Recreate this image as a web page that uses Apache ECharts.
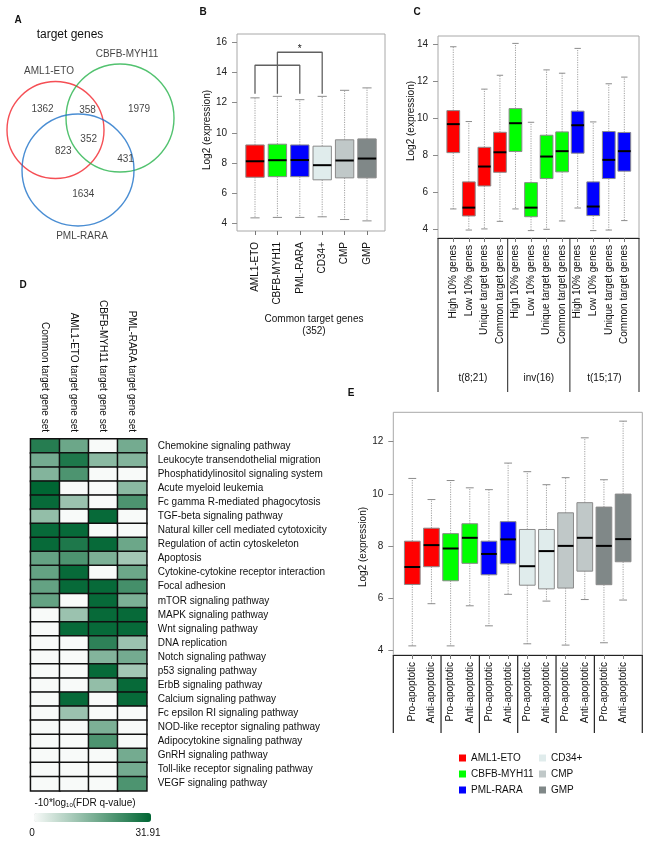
<!DOCTYPE html>
<html><head><meta charset="utf-8">
<script src="https://cdn.jsdelivr.net/npm/echarts@6/dist/echarts.min.js"></script>
<style>html,body{margin:0;padding:0;background:#fff}#c{width:650px;height:847px}</style>
</head><body><div id="c"></div>
<script>
const FONT = '"Liberation Sans", Arial, Helvetica, sans-serif';

// ---------- Panel A : Venn ----------
const vennSetNames = ['AML1-ETO', 'CBFB-MYH11', 'PML-RARA'];
const vennRegionCounts = [1362, 358, 1979, 823, 352, 431, 1634];
// layout (panel A pixel units)
const vennCircleLayout = [[55.5, 130, 48.5], [120, 118, 54], [78, 170, 56]];
const vennCountLayout = [[42.5, 109], [87.5, 110], [139, 109], [63.3, 151], [88.7, 139], [125.5, 159], [83.3, 194]];
const vennNameLayout = [[49, 71.3], [127, 54.7], [82, 236.7]];
const vennColors = ['#f2232b', '#27b34b', '#1c70c8'];

// ---------- Panel B ----------
const bCategories = ['AML1-ETO', 'CBFB-MYH11', 'PML-RARA', 'CD34+', 'CMP', 'GMP'];
const bLow    = [4.37, 4.40, 4.40, 4.44, 4.26, 4.17];
const bQ1     = [7.06, 7.10, 7.10, 6.89, 7.02, 7.02];
const bMedian = [8.12, 8.19, 8.20, 7.86, 8.17, 8.30];
const bQ3     = [9.20, 9.25, 9.20, 9.12, 9.54, 9.60];
const bHigh   = [12.32, 12.42, 12.20, 12.42, 12.82, 12.98];
const bYTicks = [4, 6, 8, 10, 12, 14, 16];
const bBracketBase = 12.6, bBracket1 = 14.48, bBracket2 = 15.34;

// ---------- Panel C ----------
const cCategories = ['High 10% genes', 'Low 10% genes', 'Unique target genes', 'Common target genes',
                     'High 10% genes', 'Low 10% genes', 'Unique target genes', 'Common target genes',
                     'High 10% genes', 'Low 10% genes', 'Unique target genes', 'Common target genes'];
const cGroups = ['t(8;21)', 'inv(16)', 't(15;17)'];
const cLow    = [5.10, 3.96, 4.02, 4.43, 5.10, 3.93, 4.00, 4.45, 5.15, 3.93, 3.96, 4.47];
const cQ1     = [8.14, 4.72, 6.34, 7.08, 8.20, 4.68, 6.74, 7.10, 8.11, 4.74, 6.74, 7.14];
const cMedian = [9.68, 5.17, 7.39, 8.16, 9.73, 5.17, 7.93, 8.22, 9.62, 5.23, 7.75, 8.22];
const cQ3     = [10.41, 6.56, 8.43, 9.24, 10.52, 6.52, 9.08, 9.26, 10.38, 6.56, 9.28, 9.23];
const cHigh   = [13.86, 9.82, 11.57, 12.32, 14.04, 9.78, 12.61, 12.43, 13.77, 9.80, 11.86, 12.22];
const cYTicks = [4, 6, 8, 10, 12, 14];

// ---------- Panel D : heatmap ----------
const heatColumns = ['Common target gene set', 'AML1-ETO target gene set', 'CBFB-MYH11 target gene set', 'PML-RARA target gene set'];
const heatRows = ['Chemokine signaling pathway', 'Leukocyte transendothelial migration', 'Phosphatidylinositol signaling system',
  'Acute myeloid leukemia', 'Fc gamma R-mediated phagocytosis', 'TGF-beta signaling pathway',
  'Natural killer cell mediated cytotoxicity', 'Regulation of actin cytoskeleton', 'Apoptosis',
  'Cytokine-cytokine receptor interaction', 'Focal adhesion', 'mTOR signaling pathway', 'MAPK signaling pathway',
  'Wnt signaling pathway', 'DNA replication', 'Notch signaling pathway', 'p53 signaling pathway',
  'ErbB signaling pathway', 'Calcium signaling pathway', 'Fc epsilon RI signaling pathway',
  'NOD-like receptor signaling pathway', 'Adipocytokine signaling pathway', 'GnRH signaling pathway',
  'Toll-like receptor signaling pathway', 'VEGF signaling pathway'];
const heatCommon = [27, 17, 15, 31.91, 31, 13, 31, 31, 19, 19, 19, 19, 0, 0, 0, 0, 0, 0, 0, 0, 0, 0, 0, 0, 0];
const heatAML    = [18, 28, 22, 0, 12, 0, 31, 28, 22, 31, 31, 0, 12, 31, 0, 0, 0, 0, 31, 12, 0, 0, 0, 0, 0];
const heatCBFB   = [0, 14, 0, 0, 0, 31, 0, 31, 16, 0, 31, 31, 31, 31, 26, 15, 31, 13, 0, 0, 16, 22, 0, 0, 0];
const heatPML    = [17, 15, 0, 14, 22, 0, 0, 18, 11, 18, 23, 16, 31, 31, 12, 17, 11, 31, 31, 0, 0, 0, 17, 17, 22];
const heatMax = 31.91;

// ---------- Panel E ----------
const eCategories = ['Pro-apoptotic', 'Anti-apoptotic', 'Pro-apoptotic', 'Anti-apoptotic', 'Pro-apoptotic', 'Anti-apoptotic',
                     'Pro-apoptotic', 'Anti-apoptotic', 'Pro-apoptotic', 'Anti-apoptotic', 'Pro-apoptotic', 'Anti-apoptotic'];
const eGroups = ['AML1-ETO', 'CBFB-MYH11', 'PML-RARA', 'CD34+', 'CMP', 'GMP'];
const eLow    = [4.16, 5.78, 4.16, 5.70, 4.93, 6.14, 4.24, 5.88, 4.19, 5.94, 4.28, 5.92];
const eQ1     = [6.52, 7.20, 6.66, 7.33, 6.89, 7.31, 6.49, 6.35, 6.38, 7.03, 6.51, 7.39];
const eMedian = [7.19, 8.03, 7.90, 8.31, 7.69, 8.25, 7.22, 7.80, 8.00, 8.31, 8.00, 8.26];
const eQ3     = [8.18, 8.68, 8.47, 8.85, 8.18, 8.93, 8.63, 8.63, 9.27, 9.66, 9.49, 9.99];
const eHigh   = [10.59, 9.78, 10.51, 10.23, 10.16, 11.18, 10.85, 10.35, 10.62, 12.15, 10.54, 12.79];
const eYTicks = [4, 6, 8, 10, 12];

// ---------- styles ----------
const groupColors = {'AML1-ETO': '#ff0000', 'CBFB-MYH11': '#00ff00', 'PML-RARA': '#0000ff',
                     'CD34+': '#e0ecec', 'CMP': '#c0c8c8', 'GMP': '#808888'};

function boxSeries(name, xi, yi, idxs, low, q1, med, q3, high, color) {
  return {
    type: 'custom', name, xAxisIndex: xi, yAxisIndex: yi,
    itemStyle: {color},
    encode: {x: 0, y: [1, 2, 3, 4, 5]},
    data: idxs.map(i => [i, low[i], q1[i], med[i], q3[i], high[i]]),
    renderItem(params, api) {
      const i = api.value(0);
      const pL = api.coord([i, api.value(1)]);
      const p1 = api.coord([i, api.value(2)]);
      const pM = api.coord([i, api.value(3)]);
      const p3 = api.coord([i, api.value(4)]);
      const pH = api.coord([i, api.value(5)]);
      const band = api.size([1, 0])[0];
      const hw = band * 0.41, cw = hw * 0.5, x = pM[0];
      const wh = {stroke: '#a0a0a0', lineWidth: 1, lineDash: [1.2, 1.2]};
      const cap = {stroke: '#8c8c8c', lineWidth: 1};
      return {type: 'group', children: [
        {type: 'line', shape: {x1: x, y1: p3[1], x2: x, y2: pH[1]}, style: wh},
        {type: 'line', shape: {x1: x, y1: p1[1], x2: x, y2: pL[1]}, style: wh},
        {type: 'line', shape: {x1: x - cw, y1: pH[1], x2: x + cw, y2: pH[1]}, style: cap},
        {type: 'line', shape: {x1: x - cw, y1: pL[1], x2: x + cw, y2: pL[1]}, style: cap},
        {type: 'rect', shape: {x: x - hw, y: p3[1], width: 2 * hw, height: p1[1] - p3[1]},
         style: {fill: color, stroke: '#8a8a8a', lineWidth: 1}},
        {type: 'line', shape: {x1: x - hw, y1: pM[1], x2: x + hw, y2: pM[1]}, style: {stroke: '#000', lineWidth: 2}}
      ]};
    }
  };
}

function frameX(gi, line) {
  return {gridIndex: gi, type: 'value', min: 0, max: 1, show: true,
    axisLine: {show: line, onZero: false, lineStyle: {color: '#222', width: 1}},
    axisTick: {show: false}, axisLabel: {show: false}, splitLine: {show: false}};
}
function frameY(gi, min, max, ticks) {
  return {gridIndex: gi, type: 'value', min, max,
    axisLine: {show: false}, splitLine: {show: false},
    axisTick: {show: true, inside: false, length: 5, lineStyle: {color: '#8a8a8a'}, customValues: ticks},
    axisLabel: {show: true, customValues: ticks, fontSize: 10, color: '#222', fontFamily: FONT, margin: 10}};
}
function dataX(gi, cats, margin) {
  return {gridIndex: gi, type: 'category', data: cats,
    axisLine: {show: false}, splitLine: {show: false},
    axisTick: {show: true, alignWithLabel: true, length: 4, lineStyle: {color: '#777'}},
    axisLabel: {rotate: 90, interval: 0, margin, fontSize: 10, color: '#111', fontFamily: FONT}};
}
function dataY(gi, min, max) {
  return {gridIndex: gi, type: 'value', min, max, show: false};
}

const bMin = 3.5, bMax = 16.55, cMin = 3.53, cMax = 14.44, eMin = 3.81, eMax = 13.13;
const frameStyle = {show: true, borderColor: '#a8a8a8', borderWidth: 1, backgroundColor: 'transparent'};

const grids = [
  {left: 0, top: 0, width: 200, height: 250},                               // 0 venn
  Object.assign({left: 237, top: 34, width: 148, height: 197}, frameStyle),   // 1 B frame
  {left: 243.8, top: 34, width: 134.4, height: 197},                         // 2 B data
  Object.assign({left: 438, top: 36, width: 201, height: 202}, frameStyle),   // 3 C frame
  {left: 445.5, top: 36, width: 186.6, height: 202},                         // 4 C data
  Object.assign({left: 393.3, top: 412.3, width: 249, height: 242.7}, frameStyle), // 5 E frame
  {left: 402.7, top: 412.3, width: 230, height: 242.7},                      // 6 E data
  {left: 30.7, top: 439, width: 116, height: 351.7}                          // 7 heatmap
].map(g => Object.assign({outerBoundsMode: 'none', containLabel: false}, g));

const xAxes = [
  {gridIndex: 0, type: 'value', min: 0, max: 200, show: false},
  frameX(1, false), dataX(2, bCategories, 11),
  frameX(3, true), dataX(4, cCategories, 7),
  frameX(5, true), dataX(6, eCategories, 7),
  {gridIndex: 7, type: 'category', data: heatColumns, position: 'top',
   axisLine: {show: false}, axisTick: {show: false}, splitLine: {show: false},
   axisLabel: {rotate: 90, interval: 0, margin: 7, fontSize: 10, color: '#111', fontFamily: FONT}}
];
const yAxes = [
  {gridIndex: 0, type: 'value', min: 0, max: 250, inverse: true, show: false},
  frameY(1, bMin, bMax, bYTicks), dataY(2, bMin, bMax),
  frameY(3, cMin, cMax, cYTicks), dataY(4, cMin, cMax),
  frameY(5, eMin, eMax, eYTicks), dataY(6, eMin, eMax),
  {gridIndex: 7, type: 'category', data: heatRows, position: 'right', inverse: true,
   axisLine: {show: false}, axisTick: {show: false}, splitLine: {show: false},
   axisLabel: {interval: 0, margin: 11, fontSize: 10, color: '#111', fontFamily: FONT}}
];

const series = [];
// Venn circles
series.push({type: 'scatter', xAxisIndex: 0, yAxisIndex: 0, silent: true,
  data: vennCircleLayout.map((c, i) => ({value: [c[0], c[1]], symbolSize: c[2] * 2,
    itemStyle: {color: 'rgba(0,0,0,0)', borderColor: vennColors[i], borderWidth: 1.4}})),
  symbol: 'circle'});
// Venn counts
series.push({type: 'scatter', xAxisIndex: 0, yAxisIndex: 0, silent: true, symbolSize: 1,
  itemStyle: {color: 'rgba(0,0,0,0)'},
  data: vennRegionCounts.map((n, i) => ({value: vennCountLayout[i], count: n})),
  label: {show: true, position: 'inside', formatter: p => String(p.data.count), fontSize: 10, color: '#111', fontFamily: FONT}});
// Venn set names
series.push({type: 'scatter', xAxisIndex: 0, yAxisIndex: 0, silent: true, symbolSize: 1,
  itemStyle: {color: 'rgba(0,0,0,0)'},
  data: vennSetNames.map((n, i) => ({value: vennNameLayout[i], setName: n})),
  label: {show: true, position: 'inside', formatter: p => p.data.setName, fontSize: 10, color: '#111', fontFamily: FONT}});

// Panel B boxes
bCategories.forEach((c, i) => series.push(boxSeries(c, 2, 2, [i], bLow, bQ1, bMedian, bQ3, bHigh, groupColors[c])));
// B significance brackets
const bracketStyle = {color: '#606060', width: 1.3};
series.push({type: 'line', xAxisIndex: 2, yAxisIndex: 2, symbol: 'none', silent: true, lineStyle: bracketStyle,
  data: [[bCategories[0], bBracketBase], [bCategories[0], bBracket1], [bCategories[2], bBracket1], [bCategories[2], bBracketBase]]});
series.push({type: 'line', xAxisIndex: 2, yAxisIndex: 2, symbol: 'none', silent: true, lineStyle: bracketStyle,
  data: [[bCategories[1], bBracketBase], [bCategories[1], bBracket2], [bCategories[3], bBracket2], [bCategories[3], bBracketBase]]});

// Panel C boxes
['AML1-ETO', 'CBFB-MYH11', 'PML-RARA'].forEach((g, k) =>
  series.push(boxSeries(g, 4, 4, [4 * k, 4 * k + 1, 4 * k + 2, 4 * k + 3], cLow, cQ1, cMedian, cQ3, cHigh, groupColors[g])));

// Panel E boxes
eGroups.forEach((g, k) => series.push(boxSeries(g, 6, 6, [2 * k, 2 * k + 1], eLow, eQ1, eMedian, eQ3, eHigh, groupColors[g])));

// Panel D heatmap
const heatCols = [heatCommon, heatAML, heatCBFB, heatPML];
const heatData = [];
heatCols.forEach((col, ci) => col.forEach((v, ri) => heatData.push([ci, ri, v])));
series.push({type: 'heatmap', xAxisIndex: 7, yAxisIndex: 7, data: heatData, silent: true,
  itemStyle: {borderColor: '#111', borderWidth: 1.5}});
const heatSeriesIndex = series.length - 1;

function txt(x, y, text, o) {
  o = o || {};
  return {type: 'text', x, y, rotation: o.rot || 0, silent: true, z: 100,
    style: {text, fontSize: o.fs || 10, fontFamily: FONT, fontWeight: o.bold ? 'bold' : 'normal',
      fill: o.color || '#111', align: o.align || 'center', verticalAlign: o.va || 'middle', rich: o.rich}};
}

const legendCommon = {orient: 'vertical', itemWidth: 7, itemHeight: 7, itemGap: 6, padding: 0, selectedMode: false,
  textStyle: {fontSize: 10, fontFamily: FONT, color: '#111'}};

const option = {
  animation: false,
  backgroundColor: '#fff',
  grid: grids, xAxis: xAxes, yAxis: yAxes, series,
  visualMap: {type: 'continuous', min: 0, max: heatMax, seriesIndex: heatSeriesIndex, orient: 'horizontal',
    left: 19, top: 798, itemWidth: 9, itemHeight: 117, calculable: false, show: true, text: null,
    inRange: {color: ['#f8faf9', '#006633']}},
  legend: [
    Object.assign({left: 459, top: 753, data: eGroups.slice(0, 3).map(g => ({name: g, icon: 'rect', itemStyle: {color: groupColors[g], borderWidth: 0}}))}, legendCommon),
    Object.assign({left: 539, top: 753, data: eGroups.slice(3).map(g => ({name: g, icon: 'rect', itemStyle: {color: groupColors[g], borderWidth: 0}}))}, legendCommon)
  ]
};

const chart = echarts.init(document.getElementById('c'));
chart.setOption(option);

// ---------- annotations placed through the axes' scales ----------
const P = (xi, yi, pt) => chart.convertToPixel({xAxisIndex: xi, yAxisIndex: yi}, pt);
const g = [];
// panel letters and titles
g.push(txt(18, 20, 'A', {bold: true, fs: 10}));
g.push(txt(203, 12, 'B', {bold: true, fs: 10}));
g.push(txt(417, 12, 'C', {bold: true, fs: 10}));
g.push(txt(23, 285, 'D', {bold: true, fs: 10}));
g.push(txt(351, 393, 'E', {bold: true, fs: 10}));
g.push(txt(70, 35, 'target genes', {fs: 12}));
// y-axis titles
g.push(txt(207, 130, 'Log2 (expression)', {rot: Math.PI / 2}));
g.push(txt(411, 121, 'Log2 (expression)', {rot: Math.PI / 2}));
g.push(txt(363, 547, 'Log2 (expression)', {rot: Math.PI / 2}));
// B subtitle
g.push(txt(314, 319, 'Common target genes'));
g.push(txt(314, 331, '(352)'));
// B star
const starY = P(2, 2, [1, bBracket2])[1];
g.push(txt((P(2, 2, [1, bBracket2])[0] + P(2, 2, [3, bBracket2])[0]) / 2, starY - 3, '*', {fs: 10}));
// C separators and group labels
const cBottom = P(3, 3, [0, cMin])[1];
const cEdges = [P(3, 3, [0, cMin])[0], (P(4, 4, [3, cMin])[0] + P(4, 4, [4, cMin])[0]) / 2,
  (P(4, 4, [7, cMin])[0] + P(4, 4, [8, cMin])[0]) / 2, P(3, 3, [1, cMin])[0]];
cEdges.forEach(x => g.push({type: 'line', silent: true, shape: {x1: x, y1: cBottom, x2: x, y2: cBottom + 154}, style: {stroke: '#222', lineWidth: 1}}));
cGroups.forEach((name, k) => g.push(txt((cEdges[k] + cEdges[k + 1]) / 2, cBottom + 140, name)));
// E separators
const eBottom = P(5, 5, [0, eMin])[1];
const eEdges = [P(5, 5, [0, eMin])[0]];
for (let k = 1; k < 6; k++) eEdges.push((P(6, 6, [2 * k - 1, eMin])[0] + P(6, 6, [2 * k, eMin])[0]) / 2);
eEdges.push(P(5, 5, [1, eMin])[0]);
eEdges.forEach(x => g.push({type: 'line', silent: true, shape: {x1: x, y1: eBottom, x2: x, y2: eBottom + 78}, style: {stroke: '#222', lineWidth: 1.2}}));
// colorbar labels
g.push(txt(85, 803, '-10*log{s|10}(FDR q-value)', {rich: {s: {fontSize: 6, fontFamily: FONT, fill: '#111', verticalAlign: 'bottom', padding: [4, 0, 0, 0]}}}));
g.push(txt(32, 833, '0'));
g.push(txt(148, 833, '31.91'));

chart.setOption({graphic: g});
</script>
</body></html>
